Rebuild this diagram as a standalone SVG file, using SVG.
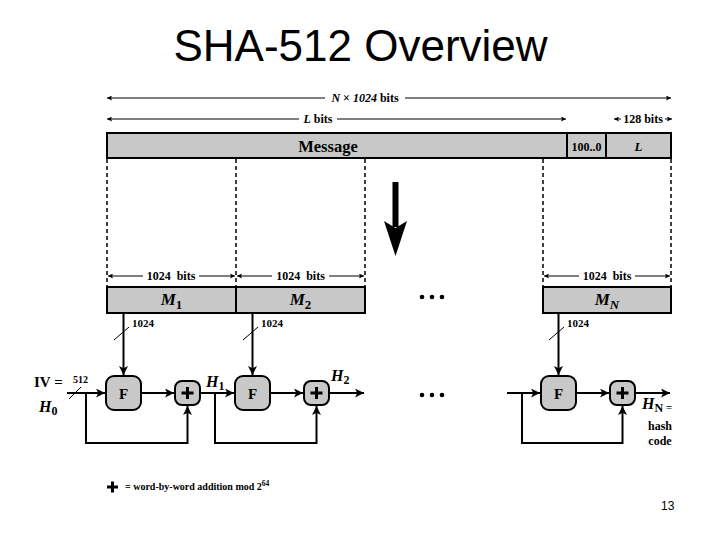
<svg xmlns="http://www.w3.org/2000/svg" width="720" height="540" viewBox="0 0 720 540">
<style>
.t{font-family:"Liberation Serif","Times New Roman",serif;font-weight:bold;fill:#000}
.bar{fill:#c8c8c8;stroke:#000;stroke-width:2}
.box{fill:#c8c8c8;stroke:#000;stroke-width:2}
.dim{stroke:#000;stroke-width:1;fill:none}
.dash{stroke:#000;stroke-width:1.5;stroke-dasharray:4 3;fill:none}
.con{stroke:#000;stroke-width:2;fill:none}
.pl{stroke:#000;stroke-width:3}
</style>
<defs>
<marker id="dim" viewBox="0 0 10 10" refX="10" refY="5" markerWidth="8" markerHeight="5" markerUnits="userSpaceOnUse" orient="auto-start-reverse"><path d="M0,0 L10,5 L0,10 L2,5 z"/></marker>
<marker id="arr" viewBox="0 0 10 10" refX="10" refY="5" markerWidth="11" markerHeight="9" markerUnits="userSpaceOnUse" orient="auto"><path d="M0,0 L10,5 L0,10 L2.5,5 z"/></marker>
</defs>
<rect width="720" height="540" fill="#fff"/>
<text x="360.5" y="61" font-family="'Liberation Sans',Arial,sans-serif" font-size="44" text-anchor="middle">SHA-512 Overview</text>

<g id="dimensions">
<line class="dim" x1="107" y1="98" x2="325" y2="98" marker-start="url(#dim)"/>
<line class="dim" x1="405" y1="98" x2="671" y2="98" marker-end="url(#dim)"/>
<text class="t" x="365" y="102" font-size="12" text-anchor="middle"><tspan font-style="italic">N</tspan> × <tspan font-style="italic">1024</tspan> bits</text>
<line class="dim" x1="107" y1="119" x2="299" y2="119" marker-start="url(#dim)"/>
<line class="dim" x1="337" y1="119" x2="566" y2="119" marker-end="url(#dim)"/>
<text class="t" x="318" y="123" font-size="12" text-anchor="middle"><tspan font-style="italic">L</tspan> bits</text>
<line class="dim" x1="621" y1="119" x2="614" y2="119" marker-end="url(#dim)"/>
<line class="dim" x1="665" y1="119" x2="672" y2="119" marker-end="url(#dim)"/>
<text class="t" x="643" y="123" font-size="12" text-anchor="middle">128 bits</text>
<line class="dim" x1="108" y1="276" x2="143" y2="276" marker-start="url(#dim)"/>
<line class="dim" x1="199" y1="276" x2="235" y2="276" marker-end="url(#dim)"/>
<text class="t" x="171" y="280" font-size="12" text-anchor="middle" style="white-space:pre">1024  bits</text>
<line class="dim" x1="237" y1="276" x2="272" y2="276" marker-start="url(#dim)"/>
<line class="dim" x1="329" y1="276" x2="364" y2="276" marker-end="url(#dim)"/>
<text class="t" x="300.5" y="280" font-size="12" text-anchor="middle" style="white-space:pre">1024  bits</text>
<line class="dim" x1="544" y1="276" x2="579" y2="276" marker-start="url(#dim)"/>
<line class="dim" x1="635" y1="276" x2="670" y2="276" marker-end="url(#dim)"/>
<text class="t" x="607" y="280" font-size="12" text-anchor="middle" style="white-space:pre">1024  bits</text>
<line class="dash" x1="107" y1="159" x2="107" y2="287"/>
<line class="dash" x1="236" y1="159" x2="236" y2="287"/>
<line class="dash" x1="365" y1="159" x2="365" y2="287"/>
<line class="dash" x1="543" y1="159" x2="543" y2="287"/>
<line class="dash" x1="671" y1="159" x2="671" y2="287"/>
</g>

<g id="message">
<rect class="bar" x="107" y="133" width="564" height="25"/>
<line class="con" x1="567" y1="133" x2="567" y2="158"/>
<line class="con" x1="606" y1="133" x2="606" y2="158"/>
<text class="t" x="328" y="151.5" font-size="16.5" text-anchor="middle">Message</text>
<text class="t" x="586.5" y="151" font-size="12" text-anchor="middle">100..0</text>
<text class="t" x="638.5" y="151" font-size="13" font-style="italic" text-anchor="middle">L</text>
</g>

<g id="bigarrow">
<rect x="392.5" y="182" width="6" height="45" fill="#000"/>
<path d="M384,221 L395.5,228 L407,221 L395.5,256 z" fill="#000"/>
</g>

<g id="M1">
<rect class="bar" x="107" y="287" width="129" height="26"/>
<text class="t" x="171.5" y="305" font-size="17" text-anchor="middle"><tspan font-style="italic">M</tspan><tspan font-size="13" dy="4">1</tspan></text>
</g>
<g id="M2">
<rect class="bar" x="236" y="287" width="129" height="26"/>
<text class="t" x="300.5" y="305" font-size="17" text-anchor="middle"><tspan font-style="italic">M</tspan><tspan font-size="13" dy="4">2</tspan></text>
</g>
<g id="MN">
<rect class="bar" x="543" y="287" width="128" height="26"/>
<text class="t" x="607" y="305" font-size="17" text-anchor="middle"><tspan font-style="italic">M</tspan><tspan font-size="13" font-style="italic" dy="4">N</tspan></text>
</g>

<g id="dots">
<circle cx="422" cy="297" r="2.3"/><circle cx="432" cy="297" r="2.3"/><circle cx="442" cy="297" r="2.3"/>
<circle cx="422" cy="395" r="2.3"/><circle cx="432" cy="395" r="2.3"/><circle cx="442" cy="395" r="2.3"/>
</g>

<g id="connectors">
<line class="con" x1="123.5" y1="313" x2="123.5" y2="375" marker-end="url(#arr)"/>
<line class="con" x1="252.5" y1="313" x2="252.5" y2="375" marker-end="url(#arr)"/>
<line class="con" x1="558.5" y1="313" x2="558.5" y2="375" marker-end="url(#arr)"/>
<line class="dim" x1="114" y1="340" x2="129" y2="327"/>
<line class="dim" x1="243" y1="340" x2="258" y2="327"/>
<line class="dim" x1="549" y1="340" x2="564" y2="327"/>
<line class="con" x1="67" y1="393" x2="105" y2="393" marker-end="url(#arr)"/>
<line class="dim" x1="69" y1="399" x2="81" y2="387"/>
<line class="con" x1="141" y1="393" x2="174" y2="393" marker-end="url(#arr)"/>
<line class="con" x1="200" y1="393" x2="234" y2="393" marker-end="url(#arr)"/>
<line class="con" x1="270" y1="393" x2="303" y2="393" marker-end="url(#arr)"/>
<line class="con" x1="329" y1="393" x2="364" y2="393" marker-end="url(#arr)"/>
<line class="con" x1="507" y1="393" x2="540" y2="393" marker-end="url(#arr)"/>
<line class="con" x1="576" y1="393" x2="609" y2="393" marker-end="url(#arr)"/>
<line class="con" x1="635" y1="393" x2="670" y2="393" marker-end="url(#arr)"/>
<path class="con" d="M86,393 V443 H187.5 V406" marker-end="url(#arr)"/>
<path class="con" d="M215,393 V443 H316.5 V406" marker-end="url(#arr)"/>
<path class="con" d="M522,393 V443 H622.5 V406" marker-end="url(#arr)"/>
</g>

<g id="labels">
<text class="t" x="132" y="327" font-size="11">1024</text>
<text class="t" x="261" y="327" font-size="11">1024</text>
<text class="t" x="567" y="327" font-size="11">1024</text>
<text class="t" x="73" y="383" font-size="10">512</text>
<text class="t" x="34" y="387" font-size="15">IV =</text>
<text class="t" x="39" y="412" font-size="16"><tspan font-style="italic">H</tspan><tspan font-size="12" dy="3">0</tspan></text>
<text class="t" x="206" y="387" font-size="16"><tspan font-style="italic">H</tspan><tspan font-size="12" dy="3">1</tspan></text>
<text class="t" x="331" y="381" font-size="16"><tspan font-style="italic">H</tspan><tspan font-size="12" dy="3">2</tspan></text>
<text class="t" x="642" y="409" font-size="16"><tspan font-style="italic">H</tspan><tspan font-size="12" dy="3">N</tspan><tspan font-size="11" dy="-1"> =</tspan></text>
<text class="t" x="660" y="430" font-size="12" text-anchor="middle">hash</text>
<text class="t" x="660" y="445" font-size="12" text-anchor="middle">code</text>
</g>

<g id="F1"><rect class="box" x="106" y="376" width="35" height="34" rx="8"/><text class="t" x="123.5" y="398.5" font-size="15" text-anchor="middle">F</text></g>
<g id="F2"><rect class="box" x="235" y="376" width="35" height="34" rx="8"/><text class="t" x="252.5" y="398.5" font-size="15" text-anchor="middle">F</text></g>
<g id="F3"><rect class="box" x="541" y="376" width="35" height="34" rx="8"/><text class="t" x="558.5" y="398.5" font-size="15" text-anchor="middle">F</text></g>

<g id="P1"><rect class="box" x="175" y="381" width="25" height="24" rx="7"/><path class="pl" d="M181.5,393 H193.5 M187.5,387 V399"/></g>
<g id="P2"><rect class="box" x="304" y="381" width="25" height="24" rx="7"/><path class="pl" d="M310.5,393 H322.5 M316.5,387 V399"/></g>
<g id="P3"><rect class="box" x="610" y="381" width="25" height="24" rx="7"/><path class="pl" d="M616.5,393 H628.5 M622.5,387 V399"/></g>

<g id="legend">
<path class="pl" d="M107,487 H118 M112.5,481.5 V492.5"/>
<text class="t" x="125" y="490" font-size="10">= word-by-word addition mod 2<tspan font-size="7.5" dy="-4">64</tspan></text>
</g>

<text x="661" y="510" font-family="'Liberation Sans',Arial,sans-serif" font-size="12">13</text>
</svg>
